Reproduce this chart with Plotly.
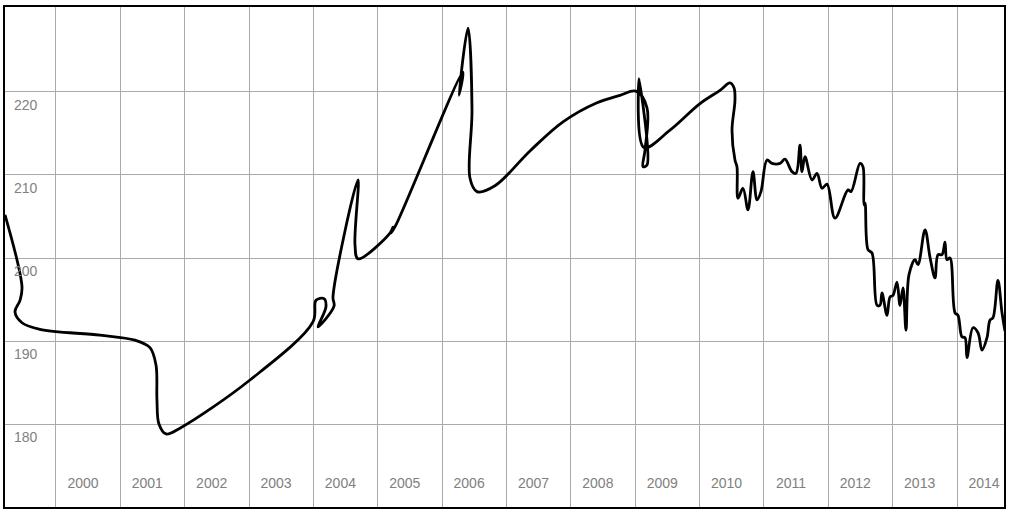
import plotly.graph_objects as go

# decimal years and values
years = [
    1999.208, 1999.472, 1999.441, 1999.363, 1999.472, 1999.751, 2000.684, 2001.228,
    2001.461, 2001.554, 2001.569, 2001.600, 2001.709, 2001.927, 2003.014, 2003.993,
    2004.040, 2004.164, 2004.195, 2004.071, 2004.320, 2004.304, 2004.693, 2004.646,
    2004.693, 2005.190, 2005.236, 2005.205, 2005.283, 2006.324, 2006.262, 2006.402,
    2006.464, 2006.433, 2006.541, 2006.821, 2007.365, 2007.878, 2008.406, 2008.763,
    2009.012, 2009.183, 2009.152, 2009.121, 2009.183, 2009.059, 2009.136, 2009.540,
    2010.006, 2010.317, 2010.473, 2010.535, 2010.550, 2010.504, 2010.550, 2010.581,
    2010.597, 2010.675, 2010.752, 2010.830, 2010.892, 2010.954, 2011.048, 2011.125,
    2011.250, 2011.327, 2011.436, 2011.498, 2011.560, 2011.591, 2011.638, 2011.747,
    2011.825, 2011.902, 2011.980, 2012.104, 2012.306, 2012.353, 2012.493, 2012.539,
    2012.555, 2012.570, 2012.617, 2012.679, 2012.757, 2012.803, 2012.834, 2012.912,
    2012.959, 2013.005, 2013.067, 2013.114, 2013.161, 2013.207, 2013.254, 2013.347,
    2013.394, 2013.503, 2013.580, 2013.658, 2013.705, 2013.767, 2013.813, 2013.844,
    2013.891, 2013.969, 2014.015, 2014.077, 2014.124, 2014.155, 2014.248, 2014.326,
    2014.388, 2014.466, 2014.512, 2014.559, 2014.636, 2014.699, 2014.745,
]
values = [
    205.2, 196.5, 194.9, 193.5, 192.2, 191.4, 190.7, 190.1,
    189.2, 187.1, 182.9, 180.0, 178.8, 179.5, 185.3, 192.3,
    194.9, 195.1, 194.1, 191.7, 194.2, 195.3, 209.4, 201.6,
    199.9, 203.0, 203.7, 203.0, 204.0, 222.4, 219.6, 227.7,
    217.8, 209.6, 208.0, 208.7, 212.9, 216.4, 218.7, 219.6,
    220.1, 218.1, 213.0, 211.0, 211.2, 221.6, 213.3, 215.4,
    218.6, 220.2, 221.1, 220.5, 219.0, 215.4, 211.8, 211.0,
    207.2, 208.4, 205.8, 210.4, 207.0, 208.0, 211.8, 211.4,
    211.4, 211.9, 210.4, 210.2, 213.6, 210.4, 212.2, 209.4,
    210.2, 208.4, 208.9, 204.8, 208.2, 208.0, 211.4, 211.0,
    206.4, 206.6, 201.0, 200.6, 194.3, 194.3, 195.8, 193.1,
    195.3, 195.5, 197.1, 194.3, 196.4, 191.3, 198.0, 199.8,
    199.2, 203.4, 200.1, 197.6, 200.4, 200.4, 201.9, 199.8,
    200.0, 193.4, 193.1, 190.5, 190.4, 188.0, 191.6, 191.0,
    188.9, 190.4, 192.5, 192.8, 197.3, 193.4, 191.2,
]

tick_years = list(range(2000, 2015))
tick_year_labels = [str(y) for y in tick_years]
tick_values = [180, 190, 200, 210, 220]
tick_value_labels = [str(v) for v in tick_values]

fig = go.Figure()
fig.add_trace(go.Scatter(
    x=years, y=values, mode="lines",
    line=dict(color="#000000", width=2.8, shape="spline", smoothing=1.0),
    hoverinfo="skip", showlegend=False,
))

label_font = dict(family="Liberation Sans, Arial, sans-serif", size=14, color="#808080")

fig.update_layout(
    width=1012, height=516,
    margin=dict(l=5, r=8, t=7, b=9),
    paper_bgcolor="white", plot_bgcolor="white",
    showlegend=False,
    xaxis=dict(
        range=[1999.208, 2014.73],
        tickvals=tick_years, ticktext=tick_year_labels,
        showgrid=True, gridcolor="#aaaaaa", gridwidth=1,
        zeroline=False,
        showline=True, linecolor="#000000", linewidth=1.5, mirror=True,
        ticks="", tickfont=label_font,
        ticklabelposition="inside",
        ticklabelshift=27, ticklabelstandoff=16,
    ),
    yaxis=dict(
        range=[170, 230.24],
        tickvals=tick_values, ticktext=tick_value_labels,
        showgrid=True, gridcolor="#aaaaaa", gridwidth=1,
        zeroline=False,
        showline=True, linecolor="#000000", linewidth=1.5, mirror=True,
        ticks="", tickfont=label_font,
        ticklabelposition="inside",
        ticklabelshift=13, ticklabelstandoff=9,
    ),
)

fig.write_html(
    "out.html",
    config={"displayModeBar": False},
    post_script="document.body.style.margin='0px';document.body.style.overflow='hidden';",
)
